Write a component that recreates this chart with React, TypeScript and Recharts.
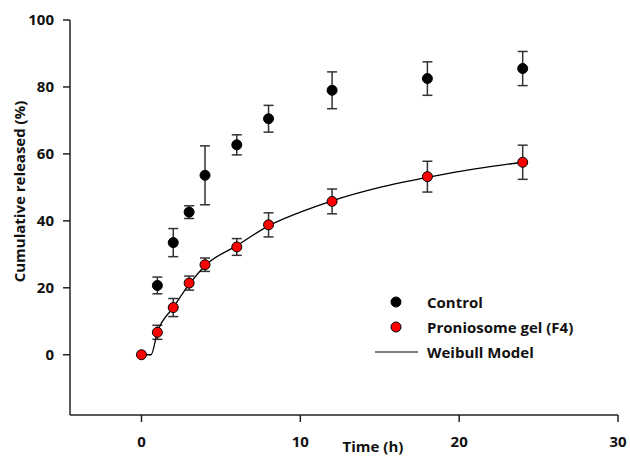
import React from "react";
import {
  ComposedChart,
  Scatter,
  Line,
  XAxis,
  YAxis,
  ErrorBar,
} from "recharts";

// sampling times (h)
const controlTimes = [1, 2, 3, 4, 6, 8, 12, 18, 24];
const controlValues = [20.7, 33.5, 42.6, 53.6, 62.7, 70.5, 79, 82.5, 85.5];
const controlErrors = [2.5, 4.2, 1.9, 8.8, 3.0, 4.0, 5.5, 5.0, 5.1];

const f4Times = [0, 1, 2, 3, 4, 6, 8, 12, 18, 24];
const f4Values = [0, 6.7, 14.1, 21.4, 26.9, 32.2, 38.8, 45.8, 53.2, 57.5];
const f4Errors = [0, 2.1, 2.7, 2.1, 2.0, 2.5, 3.6, 3.7, 4.6, 5.1];

// fitted curve
const weibullTimes = [0, 0.6, 1, 2, 3, 4, 6, 8, 10, 12, 15, 18, 21, 24];
const weibullValues = [0, 0, 6.7, 14.1, 21, 26.6, 32.6, 38.5, 42.6, 46, 50, 53, 55.5, 57.5];

const xTicks = [0, 10, 20, 30];
const yTicks = [0, 20, 40, 60, 80, 100];

const controlData = controlTimes.map((x, i) => ({ x, y: controlValues[i], err: controlErrors[i] }));
const f4Data = f4Times.map((x, i) => ({ x, y: f4Values[i], err: f4Errors[i] }));
const weibullData = weibullTimes.map((x, i) => ({ x, y: weibullValues[i] }));

const FONT = "'Open Sans', sans-serif";

const legendItems = [
  { label: "Control", kind: "dot", fill: "#000" },
  { label: "Proniosome gel (F4)", kind: "dot", fill: "#ff0000" },
  { label: "Weibull Model", kind: "line", fill: "#000" },
];

function LegendBox() {
  return (
    <div
      style={{
        position: "absolute",
        left: 375,
        top: 289,
        fontFamily: FONT,
        fontWeight: 700,
        fontSize: 15,
        color: "#111",
      }}
    >
      {legendItems.map((it) => (
        <div key={it.label} style={{ display: "flex", alignItems: "center", height: 25 }}>
          <svg width={52} height={12}>
            {it.kind === "dot" ? (
              <circle cx={21} cy={6} r={5} fill={it.fill} stroke="#000" strokeWidth={1} />
            ) : (
              <line x1={0} y1={6} x2={43} y2={6} stroke="#000" strokeWidth={1.2} />
            )}
          </svg>
          <span>{it.label}</span>
        </div>
      ))}
    </div>
  );
}

function YLabel(props: any) {
  const vb = props.viewBox || { x: 0, y: 0, width: 0, height: 0 };
  const cx = vb.x + 19;
  const cy = vb.y + vb.height / 2 - 26;
  return (
    <text
      x={cx}
      y={cy}
      transform={`rotate(-90, ${cx}, ${cy})`}
      textAnchor="middle"
      dominantBaseline="central"
      fontFamily={FONT}
      fontWeight={700}
      fontSize={15}
      fill="#111"
    >
      Cumulative released (%)
    </text>
  );
}

const dot = (fill: string) => (p: any) => (
  <circle cx={p.cx} cy={p.cy} r={5} fill={fill} stroke="#000" strokeWidth={1} />
);

export default function App() {
  return (
    <div style={{ position: "absolute", left: 0, top: 0, width: 630, height: 456 }}>
      <ComposedChart width={630} height={456} margin={{ top: 20, right: 12, bottom: 0, left: 0 }}>
        <XAxis
          type="number"
          dataKey="x"
          domain={[-4.5, 30]}
          ticks={xTicks}
          allowDataOverflow
          height={41}
          tickSize={7}
          tickMargin={14}
          stroke="#222"
          strokeWidth={1.5}
          tick={{ fill: "#111", fontFamily: FONT, fontWeight: 700, fontSize: 15 }}
          label={{
            value: "Time (h)",
            position: "insideBottom",
            offset: 4,
            dx: 29,
            fill: "#111",
            fontFamily: FONT,
            fontWeight: 700,
            fontSize: 15,
          }}
        />
        <YAxis
          type="number"
          domain={[-18, 100]}
          ticks={yTicks}
          allowDataOverflow
          width={70}
          tickSize={7}
          tickMargin={9}
          stroke="#222"
          strokeWidth={1.5}
          tick={{ fill: "#111", fontFamily: FONT, fontWeight: 700, fontSize: 15 }}
          label={<YLabel />}
        />
        <Scatter name="Control" data={controlData} dataKey="y" shape={dot("#000")} isAnimationActive={false}>
          <ErrorBar dataKey="err" direction="y" width={5} stroke="#333" strokeWidth={1.5} />
        </Scatter>
        <Scatter name="Proniosome gel (F4)" data={f4Data} dataKey="y" shape={dot("#ff0000")} isAnimationActive={false}>
          <ErrorBar dataKey="err" direction="y" width={5} stroke="#333" strokeWidth={1.5} />
        </Scatter>
        <Line
          name="Weibull Model"
          data={weibullData}
          dataKey="y"
          type="monotone"
          stroke="#000"
          strokeWidth={1.3}
          dot={false}
          isAnimationActive={false}
        />
      </ComposedChart>
      <LegendBox />
    </div>
  );
}
